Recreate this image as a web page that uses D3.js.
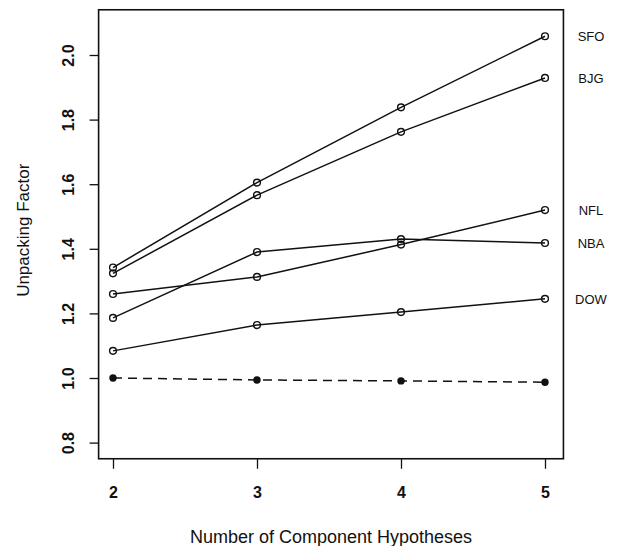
<!DOCTYPE html>
<html>
<head>
<meta charset="utf-8">
<script src="https://cdn.jsdelivr.net/npm/d3@7"></script>
<style>
  body { margin: 0; background: #fff; }
  svg text { font-family: "Liberation Sans", Arial, Helvetica, sans-serif; fill: #111; }
</style>
</head>
<body>
<svg id="chart" width="619" height="546"></svg>
<script>
// ---- data ----
const components = [2, 3, 4, 5];
const seriesNames = ["SFO", "BJG", "NFL", "NBA", "DOW"];
const sfo = [1.342, 1.605, 1.838, 2.058];
const bjg = [1.324, 1.566, 1.762, 1.929];
const nfl = [1.260, 1.313, 1.413, 1.520];
const nba = [1.186, 1.390, 1.430, 1.418];
const dow = [1.084, 1.164, 1.204, 1.245];
const baseline = [1.000, 0.994, 0.991, 0.987];
const yTicks = [0.8, 1.0, 1.2, 1.4, 1.6, 1.8, 2.0];
const xTicks = [2, 3, 4, 5];

const series = [sfo, bjg, nfl, nba, dow].map((vals, i) => ({
  name: seriesNames[i],
  points: vals.map((v, j) => ({ x: components[j], y: v }))
}));
const basePoints = baseline.map((v, j) => ({ x: components[j], y: v }));

const svg = d3.select("#chart");

// scales
const x = d3.scaleLinear().domain([2, 5]).range([113, 545]);
const y = d3.scaleLinear().domain([1, 2]).range([378, 55]);
const xMin = 1.9, xMax = 5.128, yMin = 0.75, yMax = 2.14;

// -------- axes ----------
const yAxis = svg.append("g")
  .attr("transform", `translate(${x(xMin)},0)`)
  .call(d3.axisLeft(y).tickValues(yTicks).tickSize(9).tickFormat(d3.format(".1f")));
yAxis.select(".domain").remove();
yAxis.selectAll("line").attr("stroke", "#111").attr("stroke-width", 1.3);
yAxis.selectAll("text")
  .attr("x", null).attr("dy", null)
  .attr("text-anchor", "middle")
  .attr("transform", "translate(-24.5,0) rotate(-90)")
  .style("font-size", "16px").style("font-weight", "bold");

const xAxis = svg.append("g")
  .attr("transform", `translate(0,${y(yMin)})`)
  .call(d3.axisBottom(x).tickValues(xTicks).tickSize(10).tickFormat(d3.format("d")));
xAxis.select(".domain").remove();
xAxis.selectAll("line").attr("stroke", "#111").attr("stroke-width", 1.3);
xAxis.selectAll("text")
  .attr("y", 39).attr("dy", null)
  .style("font-size", "16px").style("font-weight", "bold");

// frame
svg.append("rect")
  .attr("x", x(xMin)).attr("y", y(yMax))
  .attr("width", x(xMax) - x(xMin)).attr("height", y(yMin) - y(yMax))
  .attr("fill", "none").attr("stroke", "#111").attr("stroke-width", 1.6);

// titles
svg.append("text")
  .attr("x", (x(xMin) + x(xMax)) / 2).attr("y", 543)
  .attr("text-anchor", "middle").style("font-size", "18px")
  .text("Number of Component Hypotheses");

svg.append("text")
  .attr("transform", `translate(29,${(y(yMin) + y(yMax)) / 2 - 4}) rotate(-90)`)
  .attr("text-anchor", "middle").style("font-size", "17px")
  .text("Unpacking Factor");

// -------- lines ----------
const line = d3.line().x(d => x(d.x)).y(d => y(d.y));

svg.append("path").datum(basePoints)
  .attr("fill", "none").attr("stroke", "#111").attr("stroke-width", 1.5)
  .attr("stroke-dasharray", "9,6").attr("d", line);

svg.selectAll(".base-pt").data(basePoints).enter().append("circle")
  .attr("class", "base-pt")
  .attr("cx", d => x(d.x)).attr("cy", d => y(d.y)).attr("r", 3.7)
  .attr("fill", "#111");

const groups = svg.selectAll(".series").data(series).enter().append("g").attr("class", "series");

groups.append("path")
  .attr("fill", "none").attr("stroke", "#111").attr("stroke-width", 1.5)
  .attr("d", d => line(d.points));

groups.selectAll("circle").data(d => d.points).enter().append("circle")
  .attr("cx", d => x(d.x)).attr("cy", d => y(d.y)).attr("r", 3.4)
  .attr("fill", "none").attr("stroke", "#111").attr("stroke-width", 1.4);

groups.append("text")
  .attr("x", 591)
  .attr("y", d => y(d.points[d.points.length - 1].y))
  .attr("dy", "0.36em")
  .attr("text-anchor", "middle").style("font-size", "13px")
  .text(d => d.name);
</script>
</body>
</html>
